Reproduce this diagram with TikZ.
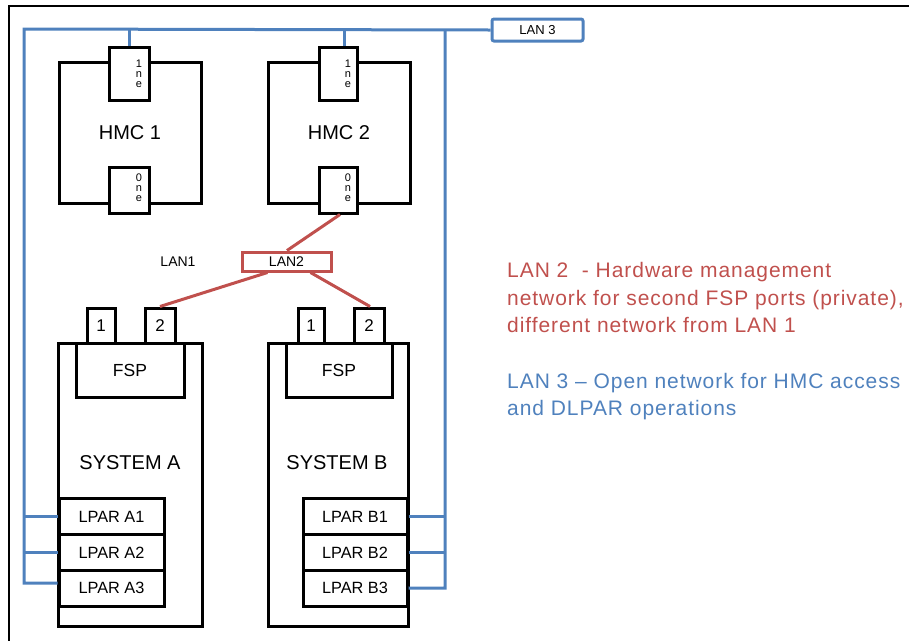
\documentclass[tikz,border=0pt]{standalone}
\usepackage{fontspec}
\setmainfont{Liberation Sans}
\usetikzlibrary{calc}
\definecolor{lanred}{RGB}{192,80,77}
\definecolor{lanblue}{RGB}{79,129,189}
\newcommand\myfs[1]{\fontsize{#1}{#1}\selectfont}
\begin{document}
\begin{tikzpicture}[x=1pt,y=-1pt,
  box/.style={draw=black,line width=3pt,fill=white,inner sep=0pt},
  blueline/.style={draw=lanblue,line width=3pt},
  redline/.style={draw=lanred,line width=3pt},
  portlab/.style={font=\fontsize{11}{10}\selectfont,align=center,inner sep=0pt}]
\useasboundingbox (0,0) rectangle (909,641);
% frame
\draw[line width=1.3pt] (909,6) -- (9,6) -- (9,641);

% key coordinates of LAN 3
\coordinate (tl) at (24,29);
\coordinate (bl) at (24,583);
\coordinate (tr) at (445,29);
\coordinate (br) at (445,588);

% LAN 3 box
\node[draw=lanblue,line width=3pt,fill=white,rounded corners=2pt,minimum width=91,minimum height=22,inner sep=0pt,font=\myfs{13}] (lan3) at (537.5,30) {LAN 3};

% HMC boxes
\node[box,minimum width=142,minimum height=141,font=\myfs{20}] (hmc1) at (130,132.5) {HMC 1};
\node[box,minimum width=142,minimum height=141,font=\myfs{20}] (hmc2) at (339,132.5) {HMC 2};
\node[box,minimum width=40,minimum height=53] (hmc1t) at (129,73.5) {};
\node[box,minimum width=40,minimum height=46] (hmc1b) at (129,190) {};
\node[box,minimum width=38,minimum height=53] (hmc2t) at (338,73.5) {};
\node[box,minimum width=38,minimum height=46] (hmc2b) at (338,190) {};
\node[portlab] (l1t) at (139,74) {1\\n\\e};
\node[portlab] (l1b) at (139,188) {0\\n\\e};
\node[portlab] (l2t) at (348,74) {1\\n\\e};
\node[portlab] (l2b) at (348,188) {0\\n\\e};

% systems
\node[box,minimum width=144,minimum height=283] (sysA) at (130,484.5) {};
\node[box,minimum width=140,minimum height=283] (sysB) at (338,484.5) {};
\node[font=\myfs{20}] (sysAl) at (130,463) {SYSTEM A};
\node[font=\myfs{20}] (sysBl) at (337,463) {SYSTEM B};
\node[box,minimum width=108,minimum height=54,font=\myfs{17.5}] (fspA) at (130,370) {FSP};
\node[box,minimum width=106,minimum height=54,font=\myfs{17.5}] (fspB) at (339,370) {FSP};
\node[box,minimum width=28,minimum height=35,font=\myfs{17}] (sa1) at (101,325.5) {1};
\node[box,minimum width=30,minimum height=35,font=\myfs{17}] (sa2) at (160,325.5) {2};
\node[box,minimum width=26,minimum height=35,font=\myfs{17}] (sb1) at (311,325.5) {1};
\node[box,minimum width=30,minimum height=35,font=\myfs{17}] (sb2) at (369,325.5) {2};

% LPARs
\node[box,minimum width=105,minimum height=35.7,font=\myfs{16.3}] (lpA1) at (111.5,516.8) {LPAR A1};
\node[box,minimum width=105,minimum height=35.7,font=\myfs{16.3}] (lpA2) at (111.5,552.5) {LPAR A2};
\node[box,minimum width=105,minimum height=35.7,font=\myfs{16.3}] (lpA3) at (111.5,588.2) {LPAR A3};
\node[box,minimum width=104,minimum height=35.7,font=\myfs{16.3}] (lpB1) at (355,516.8) {LPAR B1};
\node[box,minimum width=104,minimum height=35.7,font=\myfs{16.3}] (lpB2) at (355,552.5) {LPAR B2};
\node[box,minimum width=104,minimum height=35.7,font=\myfs{16.3}] (lpB3) at (355,588.2) {LPAR B3};

% LAN 3 wiring
\coordinate (h2s) at ($(hmc2t.north)+(6,0)$);
\draw[blueline] (lan3.west) -- (tl) -- (bl) -- (bl -| lpA3.west);
\draw[blueline] (lpA1.west) -- (lpA1.west -| tl);
\draw[blueline] (lpA2.west) -- (lpA2.west -| tl);
\draw[blueline] (hmc1t.north) -- (hmc1t.north |- tl);
\draw[blueline] (h2s) -- (h2s |- tl);
\draw[blueline] (tr) -- (br) -- (lpB3.east);
\draw[blueline] (lpB1.east) -- (lpB1.east -| tr);
\draw[blueline] (lpB2.east) -- (lpB2.east -| tr);

% LAN 2
\node[draw=lanred,line width=3pt,fill=white,minimum width=89,minimum height=19,inner sep=0pt,font=\myfs{14}] (lan2) at (286.5,261.5) {LAN2};
\node[font=\myfs{14}] (lan1) at (178,262) {LAN1};
\draw[redline] ($(hmc2b.south)+(2,0)$) -- ($(lan2.north)+(0.5,0)$);
\draw[redline] ($(lan2.south)+(-19,0)$) -- (sa2.north);
\draw[redline] ($(lan2.south)+(24,0)$) -- ($(sb2.north)+(1,0)$);

% legend text
\tikzset{legend/.style={anchor=base west,inner sep=0pt,font=\myfs{21}\addfontfeature{LetterSpace=4.5}}}
\node[legend,text=lanred] (t1) at (507,277) {LAN 2~ - Hardware management};
\node[legend,text=lanred] (t2) at (507,305) {network for second FSP ports (private),};
\node[legend,text=lanred] (t3) at (507,332) {different network from LAN 1};
\node[legend,text=lanblue] (t4) at (507,388) {LAN 3 – Open network for HMC access};
\node[legend,text=lanblue] (t5) at (507,415) {and DLPAR operations};
\end{tikzpicture}
\end{document}
